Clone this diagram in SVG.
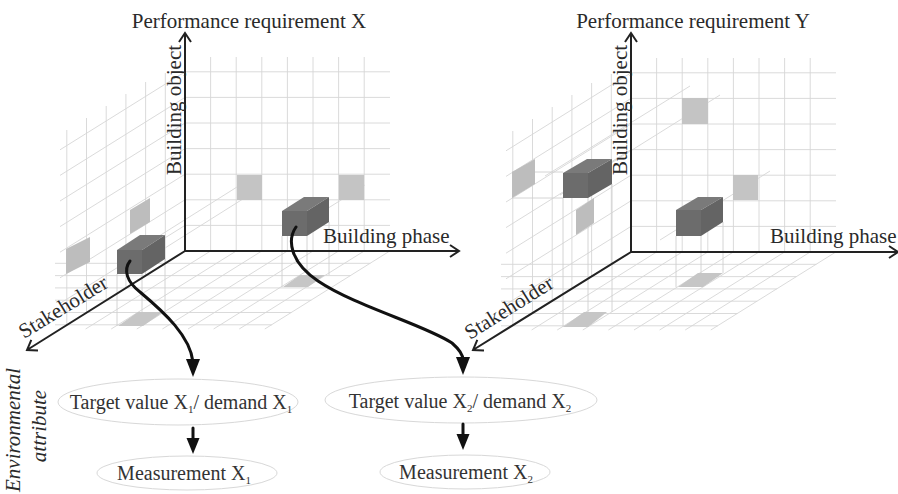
<svg xmlns="http://www.w3.org/2000/svg" width="898" height="494" viewBox="0 0 898 494" font-family="Liberation Serif, Times New Roman, serif">
  <defs>
    <style>
      .grid { stroke: #d6d6d6; stroke-width: 0.9; fill: none; }
      .proj { stroke: #cfcfcf; stroke-width: 0.9; fill: none; }
      .axis { stroke: #222; stroke-width: 2; fill: none; }
      .flow { stroke: #111; stroke-width: 3; fill: none; stroke-linecap: round; }
      .head { fill: #111; }
      .dark-front { fill: #6c6c6c; }
      .dark-top { fill: #7a7a7a; }
      .dark-side { fill: #646464; }
      .light { fill: #c4c4c4; }
      .light-side { fill: #bdbdbd; }
      .shadow { fill: #c6c6c6; }
      .lbl { font-size: 21px; fill: #2a2a2a; }
      .node-text { font-size: 20px; fill: #333; }
      .sub { font-size: 11px; }
      .oval { fill: #fff; stroke: #d8d8d8; stroke-width: 1; }
    </style>
    <!-- open lattice drawn around an axis origin at (0,0) -->
    <path id="lattice" class="grid" d="
      M25.6,-194V0 M51.2,-194V0 M76.8,-194V0 M102.4,-194V0 M128,-194V0 M153.6,-194V0 M179.2,-194V0
      M0,-25.6H205 M0,-51.2H205 M0,-76.8H205 M0,-102.4H205 M0,-128H205 M0,-153.6H205 M0,-179.2H205
      M-19.7,-178V12.3 M-39.4,-169V24.6 M-59.1,-157V36.9 M-78.8,-145V49.2 M-98.5,-133V61.5 M-118.2,-121V73.8
      M0,-25.6L-125,52.4 M0,-51.2L-125,26.8 M0,-76.8L-125,1.2 M0,-102.4L-125,-24.4 M0,-128L-125,-50 M0,-153.6L-125,-75.6 M0,-179.2L-125,-101.2
      M-130,12.3H185.3 M-130,24.6H165.6 M-130,36.9H145.9 M-130,49.2H126.2 M-130,61.5H106.5 M-130,73.8H86.8
      M25.6,0L-99.4,78 M51.2,0L-73.8,78 M76.8,0L-48.2,78 M102.4,0L-22.6,78 M128,0L3,78 M153.6,0L28.6,78 M179.2,0L54.2,78 M204.8,0L79.8,78"/>
  </defs>

  <!-- background lattices -->
  <g id="grid-x">
    <use href="#lattice" transform="translate(185,251)"/>
    <path class="grid" d="M130,270L262,187 M140,248L237,187 M290,232L365,185"/>
    <path class="proj" d="M117,274V326 M142,274V326 M165,259V312 M282,236V287 M307,236V287 M329,222V275"/>
  </g>
  <g id="grid-y">
    <use href="#lattice" transform="translate(631,252)"/>
    <path class="grid" d="M560,195L720,95 M545,176L690,86 M660,240L770,171"/>
    <path class="proj" d="M563,198V327 M588,198V327 M612,184V312 M676,236V287 M701,236V287 M723,222V273 M512,172H563 M512,198H563"/>
  </g>

  <!-- cells of requirement X -->
  <g id="cells-x">
    <rect class="light" x="237" y="175" width="25" height="25"/>
    <rect class="light" x="339" y="175" width="25" height="25"/>
    <polygon class="light-side" points="130,210 150,198 150,222 130,234"/>
    <polygon class="light-side" points="66,249 90,237 90,262 66,274"/>
    <polygon class="shadow" points="118,326 143,326 163,312 138,312"/>
    <polygon class="shadow" points="283,287 308,287 325,275 300,275"/>
  </g>
  <g id="cube-x1">
    <polygon class="dark-top" points="117,250 142,250 165,235 140,235"/>
    <polygon class="dark-side" points="142,250 165,235 165,259 142,274"/>
    <rect class="dark-front" x="117" y="250" width="25" height="24"/>
  </g>
  <g id="cube-x2">
    <polygon class="dark-top" points="282,211 307,211 329,197 304,197"/>
    <polygon class="dark-side" points="307,211 329,197 329,222 307,236"/>
    <rect class="dark-front" x="282" y="211" width="25" height="25"/>
  </g>

  <!-- cells of requirement Y -->
  <g id="cells-y">
    <rect class="light" x="682" y="98" width="26" height="26"/>
    <rect class="light" x="733" y="175" width="25" height="25"/>
    <polygon class="light-side" points="512,172 535,159 535,184 512,198"/>
    <polygon class="light-side" points="576,210 594,198 594,223 576,235"/>
    <polygon class="shadow" points="678,287 703,287 723,273 698,273"/>
    <polygon class="shadow" points="563,327 588,327 607,312 584,312"/>
  </g>
  <g id="cube-y1">
    <polygon class="dark-top" points="563,173 588,173 612,159 587,159"/>
    <polygon class="dark-side" points="588,173 612,159 612,184 588,198"/>
    <rect class="dark-front" x="563" y="173" width="25" height="25"/>
  </g>
  <g id="cube-y2">
    <polygon class="dark-top" points="676,210 701,210 723,197 698,197"/>
    <polygon class="dark-side" points="701,210 723,197 723,222 701,236"/>
    <rect class="dark-front" x="676" y="210" width="25" height="26"/>
  </g>

  <!-- axes -->
  <g id="axes-x">
    <path class="axis" d="M185,251V34 M179,42L185,33L191,42"/>
    <path class="axis" d="M185,251H458 M450,245L459,251L450,257"/>
    <path class="axis" d="M185,251L27,350 M38,350.6L27,350L31.3,339.9"/>
    <text class="lbl" x="249" y="28" text-anchor="middle">Performance requirement X</text>
    <text class="lbl" transform="translate(181,110) rotate(-90)" text-anchor="middle">Building object</text>
    <text class="lbl" x="323" y="243">Building phase</text>
    <text class="lbl" transform="translate(24,339) rotate(-31.5)">Stakeholder</text>
  </g>
  <g id="axes-y">
    <path class="axis" d="M631,252V34 M625,42L631,33L637,42"/>
    <path class="axis" d="M631,252H897 M889,246L898,252L889,258"/>
    <path class="axis" d="M631,252L473,350 M484,350.6L473,350L477.3,339.9"/>
    <text class="lbl" x="693" y="28" text-anchor="middle">Performance requirement Y</text>
    <text class="lbl" transform="translate(627,110) rotate(-90)" text-anchor="middle">Building object</text>
    <text class="lbl" x="770" y="243">Building phase</text>
    <text class="lbl" transform="translate(470,340) rotate(-32)">Stakeholder</text>
  </g>

  <!-- attribute nodes -->
  <g id="target-x1">
    <ellipse class="oval" cx="178" cy="402" rx="120" ry="23"/>
    <text class="node-text" x="181" y="409" text-anchor="middle">Target value X<tspan class="sub" dy="4">1</tspan><tspan dy="-4">/ demand X</tspan><tspan class="sub" dy="4">1</tspan></text>
  </g>
  <g id="measure-x1">
    <ellipse class="oval" cx="187" cy="473" rx="90" ry="17"/>
    <text class="node-text" x="184" y="480" text-anchor="middle">Measurement X<tspan class="sub" dy="4">1</tspan></text>
  </g>
  <g id="target-x2">
    <ellipse class="oval" cx="461" cy="400" rx="136" ry="23"/>
    <text class="node-text" x="460" y="408" text-anchor="middle">Target value X<tspan class="sub" dy="4">2</tspan><tspan dy="-4">/ demand X</tspan><tspan class="sub" dy="4">2</tspan></text>
  </g>
  <g id="measure-x2">
    <ellipse class="oval" cx="465" cy="472" rx="85" ry="17"/>
    <text class="node-text" x="466" y="479" text-anchor="middle">Measurement X<tspan class="sub" dy="4">2</tspan></text>
  </g>

  <text class="lbl" transform="translate(20,430) rotate(-90)" text-anchor="middle" font-style="italic">Environmental</text>
  <text class="lbl" transform="translate(46,426) rotate(-90)" text-anchor="middle" font-style="italic">attribute</text>

  <!-- connectors -->
  <g id="connectors">
    <path class="flow" d="M130,261C123,270 127,282 140,292C165,313 190,336 193,362"/>
    <polygon class="head" points="186,359 200,359 193,377"/>
    <path class="flow" d="M296,227C287,240 290,262 318,281C355,306 425,325 452,343C460,350 463,356 463,360"/>
    <polygon class="head" points="456,357 470,357 463,375"/>
    <path class="flow" d="M193,428V441"/>
    <polygon class="head" points="186.5,438 199.5,438 193,454"/>
    <path class="flow" d="M463,424V437"/>
    <polygon class="head" points="456.5,434 469.5,434 463,450"/>
  </g>
</svg>
